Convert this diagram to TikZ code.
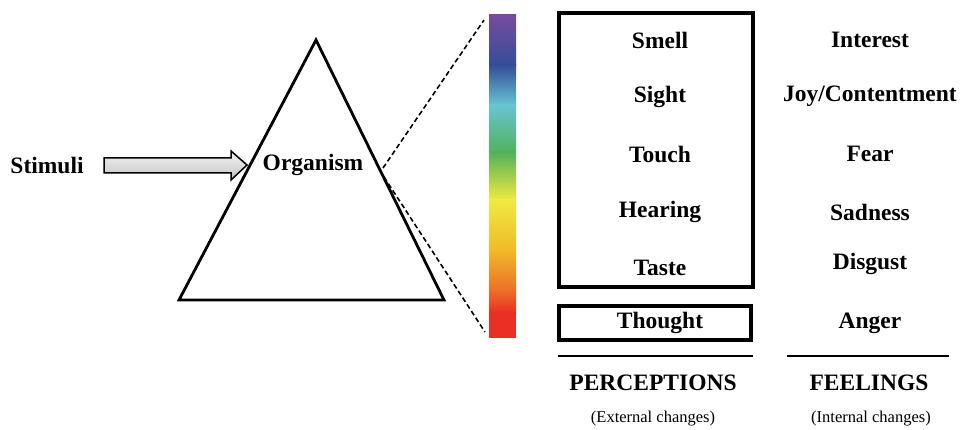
\documentclass[tikz,border=0pt]{standalone}
\usepackage{fontspec}
\setmainfont{Liberation Serif}
\begin{document}
\begin{tikzpicture}[x=1pt,y=-1pt,
  lbl/.style={font=\fontsize{23.5}{23.5}\selectfont\bfseries, inner sep=0pt, anchor=center},
  sub/.style={font=\fontsize{16.5}{17}\selectfont, inner sep=0pt, anchor=center},
  box/.style={draw, line width=3.5pt},
  rule/.style={line width=2.5pt}]
\useasboundingbox (0,0) rectangle (962,430);
% triangle
\coordinate (apex) at (316,40);
\coordinate (bl) at (179,300);
\coordinate (br) at (444,300);
\draw[line width=2.8pt, line join=miter] (apex) -- (bl) -- (br) -- cycle;
% texts left
\node[lbl] (stim) at (47,165) {Stimuli};
\node[lbl] (org) at (313,165) {Organism};
% arrow
\coordinate (a1) at (104,158);
\coordinate (a2) at (231,158);
\coordinate (a3) at (231,151);
\coordinate (a4) at (247,165);
\coordinate (a5) at (231,180);
\coordinate (a6) at (231,173);
\coordinate (a7) at (104,173);
\shade[top color=gray!10, bottom color=gray!45, draw=black, line width=1.5pt]
  (a1) -- (a2) -- (a3) -- (a4) -- (a5) -- (a6) -- (a7) -- cycle;
% colour bar
\definecolor{cpurple}{RGB}{118,76,158}
\definecolor{cblue}{RGB}{52,78,152}
\definecolor{ccyan}{RGB}{104,196,210}
\definecolor{cgreen}{RGB}{82,178,92}
\definecolor{cyellow}{RGB}{240,234,64}
\definecolor{cyorange}{RGB}{240,186,40}
\definecolor{corange}{RGB}{236,112,40}
\definecolor{cred}{RGB}{234,48,36}
\shade[top color=cpurple, bottom color=cblue] (489,15) rectangle (516,65.5);
\shade[top color=cblue, bottom color=ccyan] (489,65) rectangle (516,105.5);
\shade[top color=ccyan, bottom color=cgreen] (489,105) rectangle (516,152.5);
\shade[top color=cgreen, bottom color=cyellow] (489,152) rectangle (516,200.5);
\shade[top color=cyellow, bottom color=cyorange] (489,200) rectangle (516,250.5);
\shade[top color=cyorange, bottom color=corange] (489,250) rectangle (516,290.5);
\shade[top color=corange, bottom color=cred] (489,290) rectangle (516,312.5);
\fill[cred] (489,312) rectangle (516,338);
\coordinate (bartop) at (484,20);
\coordinate (barbot) at (485,332);
\coordinate (d1) at (383,168);
\coordinate (d2) at (384,177);
\draw[line width=1.6pt, dash pattern=on 5pt off 3pt] (d1) -- (bartop);
\draw[line width=1.6pt, dash pattern=on 5pt off 3pt] (d2) -- (barbot);
% boxes
\draw[box] (559,13) rectangle (753,287);
\draw[box] (559,306) rectangle (751,340);
\node[lbl] (smell) at (660,40) {Smell};
\node[lbl] (sight) at (660,97) {Sight};
\node[lbl] (touch) at (660,154) {Touch};
\node[lbl] (hear) at (660,212) {Hearing};
\node[lbl] (taste) at (660,268) {Taste};
\node[lbl] (thought) at (660,323) {Thought};
\node[lbl] (int) at (870,40) {Interest};
\node[lbl] (joy) at (870,96) {Joy/Contentment};
\node[lbl] (fear) at (870,154) {Fear};
\node[lbl] (sad) at (870,212) {Sadness};
\node[lbl] (disg) at (870,264) {Disgust};
\node[lbl] (anger) at (870,323) {Anger};
% rules
\draw[rule] (558,356) -- (753,356);
\draw[rule] (787,356) -- (949,356);
\node[lbl] (perc) at (653,383) {PERCEPTIONS};
\node[lbl] (feel) at (869,383) {FEELINGS};
\node[sub] (ext) at (653,419) {(External changes)};
\node[sub] (intc) at (871,419) {(Internal changes)};
\end{tikzpicture}
\end{document}
